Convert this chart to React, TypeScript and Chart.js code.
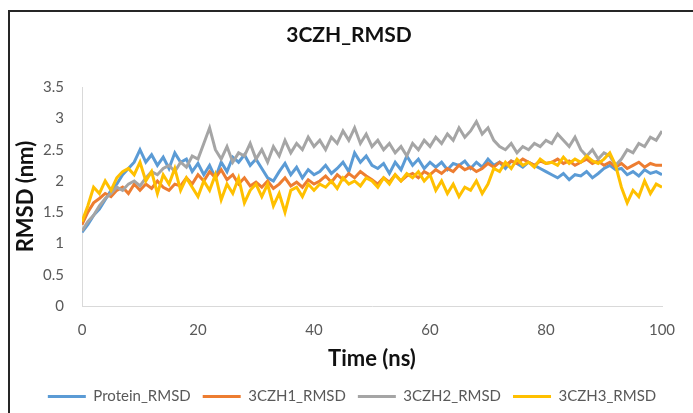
import React, { useEffect, useRef } from "react";
import { Chart, registerables } from "chart.js";

Chart.register(...registerables);

const TITLE = "3CZH_RMSD";
const X_TITLE = "Time (ns)";
const Y_TITLE = "RMSD (nm)";
const SERIES_NAMES = ["Protein_RMSD", "3CZH1_RMSD", "3CZH2_RMSD", "3CZH3_RMSD"];
const SERIES_COLORS = ["#5B9BD5", "#ED7D31", "#A5A5A5", "#FFC000"];

// time axis, 1 ns sampling from 0 to 100 ns
const TIME_NS = Array.from({ length: 101 }, (_, i) => i);

const PROTEIN_RMSD = [
  1.18, 1.30, 1.45, 1.55, 1.70, 1.85, 1.95, 2.10, 2.20, 2.30, 2.50,
  2.30, 2.42, 2.25, 2.38, 2.20, 2.45, 2.30, 2.35, 2.15, 2.28,
  2.10, 2.25, 2.05, 2.30, 2.15, 2.38, 2.30, 2.42, 2.25, 2.35,
  2.20, 2.05, 2.00, 2.15, 2.28, 2.10, 2.22, 2.05, 2.18, 2.10,
  2.15, 2.25, 2.12, 2.20, 2.30, 2.15, 2.45, 2.30, 2.40, 2.25,
  2.20, 2.28, 2.12, 2.30, 2.18, 2.40, 2.25, 2.35, 2.20, 2.30,
  2.22, 2.30, 2.18, 2.28, 2.25, 2.32, 2.20, 2.30, 2.22, 2.35,
  2.25, 2.30, 2.20, 2.32, 2.28, 2.22, 2.30, 2.25, 2.20, 2.15,
  2.10, 2.05, 2.12, 2.02, 2.10, 2.08, 2.15, 2.05, 2.12, 2.20,
  2.25, 2.18, 2.20, 2.10, 2.15, 2.08, 2.18, 2.12, 2.15, 2.10,
];

const CZH1_RMSD = [
  1.30, 1.50, 1.65, 1.72, 1.80, 1.75, 1.85, 1.90, 1.80, 1.95, 1.85,
  1.95, 1.88, 2.00, 1.90, 1.85, 1.95, 1.92, 2.05, 1.95, 2.10,
  2.00, 2.15, 2.05, 2.18, 2.02, 2.10, 1.95, 2.05, 1.92, 1.98,
  1.90, 2.00, 1.88, 1.95, 2.05, 1.92, 1.98, 1.90, 2.02, 1.95,
  2.00, 2.08, 1.98, 2.10, 2.02, 2.12, 2.05, 2.15, 2.08, 2.02,
  1.95, 2.05, 1.98, 2.10, 2.00, 2.08, 2.12, 2.05, 2.15, 2.10,
  2.18, 2.12, 2.20, 2.15, 2.25, 2.18, 2.22, 2.15, 2.20, 2.28,
  2.22, 2.30, 2.25, 2.32, 2.28, 2.35, 2.30, 2.25, 2.32, 2.28,
  2.30, 2.35, 2.28, 2.32, 2.25, 2.30, 2.35, 2.28, 2.32, 2.25,
  2.30, 2.22, 2.28, 2.20, 2.25, 2.30, 2.22, 2.28, 2.25, 2.25,
];

const CZH2_RMSD = [
  1.20, 1.35, 1.45, 1.60, 1.72, 1.80, 1.90, 1.85, 1.95, 2.00, 1.92,
  2.05, 2.15, 2.10, 2.20, 2.25, 2.15, 2.30, 2.22, 2.40, 2.35,
  2.60, 2.85, 2.50, 2.35, 2.55, 2.30, 2.45, 2.40, 2.60, 2.35,
  2.50, 2.30, 2.55, 2.40, 2.65, 2.45, 2.60, 2.50, 2.70, 2.55,
  2.65, 2.50, 2.70, 2.60, 2.80, 2.65, 2.85, 2.60, 2.75, 2.55,
  2.65, 2.50, 2.60, 2.45, 2.55, 2.40, 2.60, 2.50, 2.65, 2.55,
  2.70, 2.60, 2.75, 2.65, 2.85, 2.70, 2.80, 2.95, 2.75, 2.85,
  2.65, 2.55, 2.50, 2.60, 2.45, 2.55, 2.50, 2.60, 2.55, 2.65,
  2.60, 2.75, 2.65, 2.55, 2.70, 2.50, 2.40, 2.50, 2.35, 2.45,
  2.40, 2.25, 2.35, 2.50, 2.45, 2.60, 2.55, 2.70, 2.65, 2.80,
];

const CZH3_RMSD = [
  1.35, 1.60, 1.90, 1.80, 2.00, 1.85, 2.05, 2.15, 2.20, 2.10, 2.30,
  2.00, 2.15, 1.80, 2.10, 1.95, 2.20, 1.85, 2.05, 1.90, 1.75,
  2.00, 1.85, 2.10, 1.70, 1.95, 1.80, 2.05, 1.65, 1.85, 1.95,
  1.75, 1.95, 1.60, 1.80, 1.50, 1.85, 1.90, 1.75, 1.95, 1.85,
  1.95, 1.90, 2.00, 1.88, 2.05, 1.95, 2.00, 1.92, 2.05, 2.00,
  1.90, 2.05, 1.95, 2.10, 2.00, 2.12, 2.05, 2.15, 2.00, 2.10,
  1.85, 2.00, 1.80, 1.95, 1.75, 1.90, 1.85, 2.00, 1.80, 1.95,
  2.20, 2.15, 2.30, 2.20, 2.35, 2.25, 2.30, 2.22, 2.35, 2.28,
  2.30, 2.25, 2.38, 2.28, 2.35, 2.30, 2.40, 2.32, 2.28, 2.35,
  2.45, 2.25, 1.90, 1.65, 1.85, 1.75, 2.00, 1.80, 1.95, 1.90,
];

const SERIES_VALUES = [PROTEIN_RMSD, CZH1_RMSD, CZH2_RMSD, CZH3_RMSD];

const FONT = "Lato, 'Open Sans', sans-serif";

// nudges the title and legend blocks horizontally (the reference centres them
// slightly right of the canvas-padding centre)
const shiftBlocks = {
  id: "shiftBlocks",
  afterLayout(chart: any) {
    const t = chart.titleBlock;
    if (t) {
      t.left += 12;
      t.right += 12;
    }
    const l = chart.legend;
    if (l) {
      l.left += 15;
      l.right += 15;
    }
  },
};

export default function App() {
  const canvasRef = useRef<HTMLCanvasElement | null>(null);

  useEffect(() => {
    const canvas = canvasRef.current;
    if (!canvas) return;
    const datasets = SERIES_NAMES.map((name, i) => ({
      label: name,
      data: TIME_NS.map((t, k) => ({ x: t, y: SERIES_VALUES[i][k] })),
      borderColor: SERIES_COLORS[i],
      backgroundColor: SERIES_COLORS[i],
      borderWidth: 3,
      pointRadius: 0,
      tension: 0,
      order: SERIES_NAMES.length - i,
    }));
    const chart = new Chart(canvas, {
      type: "line",
      data: { datasets },
      plugins: [shiftBlocks],
      options: {
        responsive: false,
        animation: false,
        layout: { padding: { left: 12, right: 31, top: 0, bottom: 0 } },
        plugins: {
          title: {
            display: true,
            text: TITLE,
            color: "#111",
            font: { family: FONT, size: 21, weight: "bold" },
            padding: { top: 23, bottom: 39 },
          },
          legend: {
            position: "bottom",
            maxHeight: 36,
            labels: {
              boxWidth: 38,
              boxHeight: 3,
              padding: 12,
              color: "#595959",
              font: { family: FONT, size: 15 },
              sort: (a: any, b: any) => a.datasetIndex - b.datasetIndex,
              generateLabels: (ch: any) =>
                Chart.defaults.plugins.legend.labels
                  .generateLabels(ch)
                  .map((it: any) => ({ ...it, lineWidth: 0 })),
            },
          },
          tooltip: { enabled: false },
        },
        scales: {
          x: {
            type: "linear",
            min: 0,
            max: 100,
            ticks: {
              stepSize: 20,
              padding: 15,
              color: "#595959",
              font: { family: FONT, size: 15 },
            },
            grid: { display: false, drawTicks: false },
            border: { display: true, color: "#D9D9D9", width: 1 },
            title: {
              display: true,
              text: X_TITLE,
              color: "#111",
              font: { family: FONT, size: 22, weight: "bold" },
              padding: { top: 5, bottom: 5 },
            },
            afterFit: (s: any) => {
              s.height = 71;
            },
          },
          y: {
            min: 0,
            max: 3.5,
            ticks: {
              stepSize: 0.5,
              padding: 18,
              color: "#595959",
              font: { family: FONT, size: 15 },
              callback: (v: any) => String(v),
            },
            grid: { display: false, drawTicks: false },
            border: { display: true, color: "#D9D9D9", width: 1 },
            title: {
              display: true,
              text: Y_TITLE,
              color: "#111",
              font: { family: FONT, size: 22, weight: "bold" },
              padding: { top: 1, bottom: 1 },
            },
            afterFit: (s: any) => {
              s.width = 70;
            },
          },
        },
      },
    });
    return () => chart.destroy();
  }, []);

  return (
    <div
      style={{
        position: "absolute",
        left: 0,
        top: 0,
        width: 693,
        height: 413,
        background: "#fff",
        overflow: "hidden",
      }}
    >
      <canvas
        ref={canvasRef}
        width={693}
        height={413}
        style={{ position: "absolute", left: 0, top: 0, width: 693, height: 413 }}
      />
      <div
        style={{
          position: "absolute",
          left: 8,
          top: 10,
          width: 693,
          height: 413,
          borderLeft: "2px solid #262626",
          borderTop: "2px solid #262626",
          pointerEvents: "none",
        }}
      />
    </div>
  );
}
